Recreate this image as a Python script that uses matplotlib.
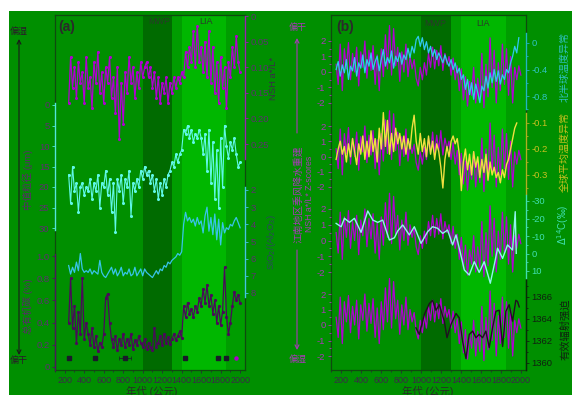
import matplotlib
matplotlib.use('Agg')
import matplotlib.pyplot as plt
from matplotlib.patches import Rectangle, FancyArrowPatch
import numpy as np

plt.rcParams['font.family'] = ['Liberation Sans', 'Noto Sans CJK SC', 'DejaVu Sans']
plt.rcParams['axes.unicode_minus'] = False

# ---------------- data ----------------
# panel (a): 20-yr samples starting 240 AD
nsh_start = 240
nsh = [0.17, 0.08, 0.14, 0.10, 0.16, 0.09, 0.13, 0.11, 0.17, 0.08,
       0.14, 0.12, 0.18, 0.09, 0.13, 0.07, 0.15, 0.11, 0.17, 0.10,
       0.13, 0.08, 0.16, 0.12, 0.19, 0.10, 0.24, 0.13, 0.21, 0.11,
       0.15, 0.08, 0.13, 0.10, 0.16, 0.11, 0.14, 0.09, 0.12, 0.10,
       0.09, 0.12, 0.10, 0.14, 0.11, 0.16, 0.12, 0.17, 0.13, 0.15,
       0.12, 0.17, 0.13, 0.15, 0.12, 0.14, 0.12, 0.13, 0.11, 0.12,
       0.07, 0.10, 0.06, 0.09, 0.03, 0.10, 0.02, 0.09, 0.06, 0.11,
       0.05, 0.12, 0.03, 0.13, 0.06, 0.15, 0.09, 0.17, 0.08, 0.14,
       0.10, 0.18, 0.09, 0.12, 0.06, 0.10, 0.04, 0.09, 0.11]
grain = [17, 24, 15, 21, 19, 26, 20, 19, 22, 20,
         21, 18, 23, 19, 21, 17, 25, 19, 20, 16,
         22, 18, 26, 19, 31, 18, 21, 17, 24, 18,
         20, 16, 27, 19, 21, 18, 20, 16, 18, 15,
         17, 16, 19, 17, 21, 18, 23, 19, 22, 18,
         20, 17, 16, 14, 15, 12, 14, 12, 11, 6,
         7, 5, 8, 6, 9, 7, 8, 6, 8, 12,
         7, 16, 6, 19, 9, 23, 11, 25, 8, 20,
         5, 10, 13, 9, 11, 8, 12, 15, 14]
sio2 = [6.4, 6.9, 6.5, 6.8, 6.2, 6.7, 5.7, 6.6, 6.8, 6.7,
        6.8, 6.6, 6.9, 6.7, 6.8, 6.9, 6.1, 6.8, 7.0, 7.1,
        6.9, 6.7, 6.5, 6.9, 6.6, 7.0, 6.8, 6.5, 7.0, 6.8,
        6.9, 6.6, 7.0, 6.9, 6.5, 7.0, 6.8, 6.6, 7.0, 6.6,
        6.8, 6.9, 7.0, 7.1, 6.9, 6.7, 6.9, 6.6, 6.7, 6.4,
        6.5, 6.2, 6.3, 6.1, 6.0, 5.9, 5.7, 5.8, 5.6, 4.0,
        3.3, 3.8, 3.6, 3.9, 3.7, 4.1, 3.6, 4.0, 3.8, 4.5,
        3.5, 3.0, 4.4, 3.6, 4.6, 3.4, 4.9, 3.7, 5.2, 3.9,
        4.5, 4.2, 4.3, 4.0, 4.1, 3.8, 3.6, 3.9, 4.2]
toc = [0.40, 0.80, 0.35, 0.55, 0.22, 0.50, 0.30, 0.80, 0.25, 0.40,
       0.30, 0.20, 0.35, 0.18, 0.28, 0.14, 0.22, 0.18, 0.30, 0.62,
       0.66, 0.40, 0.25, 0.18, 0.28, 0.15, 0.25, 0.20, 0.30, 0.18,
       0.25, 0.20, 0.30, 0.16, 0.24, 0.20, 0.28, 0.22, 0.18, 0.25,
       0.16, 0.22, 0.18, 0.15, 0.35, 0.18, 0.22, 0.28, 0.20, 0.30,
       0.22, 0.27, 0.21, 0.25, 0.30, 0.24, 0.28, 0.32, 0.26, 0.55,
       0.45, 0.58, 0.48, 0.52, 0.45, 0.55, 0.50, 0.62, 0.55, 0.70,
       0.58, 0.74, 0.55, 0.65, 0.48, 0.60, 0.40, 0.55, 0.38, 0.50,
       0.90, 0.45, 0.30, 0.40, 0.55, 0.68, 0.60, 0.65, 0.58]
date_years = [240, 510, 820, 1430, 1770, 1850]
date_err = [12, 12, 60, 12, 12, 12]
date_modern = [1955]

# panel (b): 20-yr samples starting 200 AD
z_start = 200
zscore = [0.5, -0.8, 1.8, -1.2, 1.5, 0.2, 1.9, -0.5, 1.2, 0.0,
          1.6, -0.9, 1.3, 0.3, 2.0, -0.4, 1.4, 0.1, 1.7, -0.8,
          1.1, -1.2, 1.5, -0.3, 2.4, 0.2, 3.0, -0.2, 2.8, 0.4,
          1.6, -0.6, 1.3, 0.0, 1.8, -0.3, 1.0, 0.2, 0.8, -0.4,
          -0.9, 0.3, -0.5, 0.6, -0.2, 1.2, 0.3, 1.6, 0.2, 1.4,
          0.4, 1.7, 0.1, 1.2, 0.5, 1.0, -0.2, 0.9, -0.5, 0.4,
          -1.2, 0.2, -1.8, -0.3, -2.2, -0.6, -1.5, 0.3, -2.0, -0.4,
          -1.7, 1.2, -2.3, 0.5, -1.6, 2.2, -1.0, 1.4, -2.0, 0.6,
          -1.2, 1.8, -0.8, 1.5, -1.5, 1.0, -2.0, 0.3, -0.5, 0.4, -0.2]
nh_temp = [-0.40, -0.28, -0.50, -0.33, -0.45, -0.25, -0.55, -0.35, -0.42, -0.22,
           -0.50, -0.30, -0.38, -0.18, -0.45, -0.25, -0.35, -0.15, -0.40, -0.28,
           -0.20, -0.42, -0.25, -0.10, -0.35, -0.22, -0.30, -0.12, -0.38, -0.20,
           -0.28, -0.15, -0.32, -0.18, -0.25, -0.08, -0.22, -0.05, -0.15, 0.05,
           0.10, -0.05, 0.08, -0.10, 0.02, -0.15, -0.05, -0.20, -0.10, -0.25,
           -0.15, -0.22, -0.30, -0.18, -0.28, -0.35, -0.25, -0.40, -0.30, -0.45,
           -0.38, -0.55, -0.48, -0.70, -0.55, -0.78, -0.60, -0.85, -0.62, -0.75,
           -0.90, -0.65, -0.72, -0.50, -0.68, -0.45, -0.60, -0.40, -0.58, -0.42,
           -0.62, -0.48, -0.55, -0.40, -0.45, -0.30, -0.20, -0.05, -0.15, 0.08]
glob_temp = [-0.24, -0.20, -0.17, -0.22, -0.19, -0.25, -0.18, -0.23, -0.16, -0.21,
             -0.26, -0.18, -0.22, -0.15, -0.24, -0.17, -0.23, -0.13, -0.21, -0.16,
             -0.25, -0.12, -0.20, -0.06, -0.19, -0.09, -0.22, -0.14, -0.21, -0.12,
             -0.18, -0.14, -0.20, -0.15, -0.22, -0.16, -0.20, -0.12, -0.07, -0.17,
             -0.22, -0.14, -0.21, -0.16, -0.23, -0.15, -0.22, -0.17, -0.24, -0.18,
             -0.21, -0.27, -0.35, -0.24, -0.19, -0.23, -0.17, -0.15, -0.18, -0.16,
             -0.22, -0.36, -0.25, -0.20, -0.28, -0.22, -0.30, -0.21, -0.27, -0.23,
             -0.31, -0.24, -0.29, -0.22, -0.32, -0.25, -0.30, -0.27, -0.31, -0.29,
             -0.33, -0.28, -0.31, -0.26, -0.24, -0.20, -0.16, -0.12, -0.10]
c14_years = [200, 249, 281, 330, 378, 443, 508, 557, 605, 654, 719, 768, 800, 849,
             913, 962, 1027, 1092, 1140, 1189, 1238, 1286, 1335, 1368, 1400, 1449,
             1497, 1546, 1594, 1643, 1702, 1747, 1773, 1822, 1870, 1919, 1945, 1955]
c14 = [-17.2, -15.3, -20.1, -17.8, -20.1, -12.1, -24.3, -19.1, -17.8, -19.1, -7.7,
       -9.0, -12.9, -16.3, -10.6, -15.3, -5.8, -12.5, -15.3, -14.4, -11.5, -13.4,
       -4.9, -10.6, -3.0, 9.4, 12.3, 4.7, 10.8, 4.7, 17.0, 4.7, -3.0, 2.8, -4.9,
       -2.0, -23.9, -0.1]
solar_years = [978, 1011, 1059, 1108, 1140, 1173, 1205, 1254, 1280, 1319, 1368, 1400,
               1432, 1465, 1497, 1530, 1562, 1594, 1627, 1659, 1692, 1724, 1757, 1789,
               1822, 1854, 1886, 1919, 1951, 1967, 1984]
solar = [1363.2, 1362.6, 1364.4, 1365.4, 1365.7, 1364.8, 1365.3, 1363.8, 1362.3,
         1363.5, 1364.5, 1364.1, 1362.0, 1360.4, 1362.6, 1362.9, 1362.3, 1362.6,
         1362.3, 1362.9, 1361.4, 1363.2, 1364.7, 1364.8, 1361.5, 1364.7, 1365.3,
         1363.8, 1365.7, 1365.6, 1365.1]
x_ticks = [200, 400, 600, 800, 1000, 1200, 1400, 1600, 1800, 2000]

# ---------------- figure ----------------
W, H = 572, 395
fig = plt.figure(figsize=(W / 100, H / 100), dpi=100)
fig.patch.set_facecolor('white')
BG = '#008f00'
MWP_C = '#006b00'
TR_C = '#009d00'
LIA_C = '#00b700'
fig.patches.append(Rectangle((9 / W, 0), 1 - 9 / W, 1 - 11 / H, transform=fig.transFigure,
                             facecolor=BG, edgecolor='none', zorder=-10))

TOP, BOT = 15, 370
TICK_FS = 6.8


def px_rect(x0, y0, x1, y1):
    return [x0 / W, 1 - y1 / H, (x1 - x0) / W, (y1 - y0) / H]


def frame(x0, x1, xlim):
    ax = fig.add_axes(px_rect(x0, TOP, x1, BOT))
    ax.set_facecolor(BG)
    ax.set_xlim(*xlim)
    ax.set_ylim(0, 1)
    ax.axvspan(1000, 1300, color=MWP_C, lw=0)
    ax.axvspan(1300, 1400, color=TR_C, lw=0)
    ax.axvspan(1400, 1850, color=LIA_C, lw=0)
    ax.axvspan(1850, 2100, color=TR_C, lw=0)
    for s in ax.spines.values():
        s.set_color('#0f4a0f')
        s.set_linewidth(0.9)
    ax.set_yticks([])
    ax.set_xticks(x_ticks)
    ax.set_xticks(range(100, 2051, 100), minor=True)
    ax.tick_params(axis='x', which='both', direction='out', length=2.5, width=0.6,
                   color='#2a2a3a', labelcolor='#3a2a48', labelsize=6.5, pad=1.5)
    ax.tick_params(axis='x', which='minor', length=1.5)
    return ax


def seg(x0, x1, xlim, v1, y1, v2, y2):
    ax = fig.add_axes(px_rect(x0, TOP, x1, BOT))
    b = (y2 - y1) / (v2 - v1)
    a = y1 - b * v1
    ax.set_ylim((BOT - a) / b, (TOP - a) / b)
    ax.set_xlim(*xlim)
    ax.patch.set_visible(False)
    for s in ax.spines.values():
        s.set_visible(False)
    ax.tick_params(axis='x', which='both', bottom=False, labelbottom=False)
    ax.tick_params(axis='y', which='both', left=False, labelleft=False,
                   right=False, labelright=False)
    return ax


def ystyle(ax, side, ticks, labels, lo, hi, spine_col, tick_col, label_col,
           minor=None, spine=True):
    sp = ax.spines[side]
    if spine:
        sp.set_visible(True)
        sp.set_bounds(lo, hi)
        sp.set_color(spine_col)
        sp.set_linewidth(1.0)
    ax.set_yticks(ticks)
    ax.set_yticklabels(labels)
    if minor is not None:
        ax.set_yticks(minor, minor=True)
    else:
        ax.set_yticks([], minor=True)
    kw = dict(direction='out', length=2.5, width=0.6, color=tick_col,
              labelcolor=label_col, labelsize=TICK_FS, pad=1.5)
    if side == 'right':
        ax.tick_params(axis='y', which='both', right=True, labelright=True,
                       left=False, labelleft=False, **kw)
    else:
        ax.tick_params(axis='y', which='both', left=True, labelleft=True,
                       right=False, labelright=False, **kw)
    ax.tick_params(axis='y', which='minor', length=1.5)


def years(start, vals):
    return np.arange(start, start + 20 * len(vals), 20)


def T(x, y, s, **kw):
    kw.setdefault('ha', 'center')
    kw.setdefault('va', 'center')
    return fig.text(x / W, 1 - y / H, s, **kw)


def arrow(x, y0, y1, col, style='->'):
    fig.add_artist(FancyArrowPatch((x / W, 1 - y0 / H), (x / W, 1 - y1 / H),
                                   transform=fig.transFigure, arrowstyle=style,
                                   mutation_scale=7, color=col, lw=0.8,
                                   shrinkA=0, shrinkB=0))


LAB_A = '#5e3070'

# ---------------- panel (a) ----------------
XA = (100, 2050)
fa = frame(55, 245, XA)

a1 = seg(55, 245, XA, 0, 16, 0.25, 144)
ystyle(a1, 'right', [0, 0.05, 0.10, 0.15, 0.20, 0.25],
       ['0', '0.05', '0.10', '0.15', '0.20', '0.25'], 0, 0.28,
       '#9a20b0', '#9a20b0', LAB_A)
a1.plot(years(nsh_start, nsh), nsh, color='#b000d0', lw=0.9, marker='o', ms=1.2)

a2 = seg(55, 245, XA, 0, 105, 30, 228)
ystyle(a2, 'left', [0, 5, 10, 15, 20, 25, 30],
       ['0', '5', '10', '15', '20', '25', '30'], -0.5, 30.5,
       '#50e8d8', '#50e8d8', LAB_A)
a2.plot(years(nsh_start, grain), grain, color='#60f8e8', lw=0.8, marker='o', ms=1.2)

a3 = seg(55, 245, XA, 2, 190, 8, 293)
ystyle(a3, 'right', [2, 3, 4, 5, 6, 7, 8], ['2', '3', '4', '5', '6', '7', '8'],
       1.85, 8.25, '#40c8e0', '#40c8e0', LAB_A)
a3.plot(years(nsh_start, sio2), sio2, color='#38c4e8', lw=0.9)

a4 = seg(55, 245, XA, 0, 367, 1.0, 256)
ystyle(a4, 'left', [0, 0.2, 0.4, 0.6, 0.8, 1.0],
       ['0', '0.2', '0.4', '0.6', '0.8', '1.0'], -0.03, 1.02,
       '#4a1a5a', '#4a1a5a', LAB_A)
a4.plot(years(nsh_start, toc), toc, color='#4a0a5a', lw=0.9, marker='o', ms=1.3)
a4.errorbar(date_years, [0.08] * len(date_years), xerr=date_err, fmt='s', ms=2.2,
            color='#1a1a2a', elinewidth=0.5, capsize=1.2, capthick=0.5)
a4.plot(date_modern, [0.08], 'o', ms=2.2, color='#b000d0')

T(67, 27, '(a)', fontsize=10, fontweight='bold', color='#2a2a2a')
T(159, 22, 'MWP', fontsize=6.5, color='#2a3a2a')
T(206, 22, 'LIA', fontsize=6.5, color='#2a3a2a')
T(18.5, 31, '偏湿', fontsize=6.5, color='#2a1a2a')
T(19, 361, '偏干', fontsize=6.5, color='#2a1a2a')
arrow(19, 355, 39, '#1a1a1a', '<->')
T(28, 180, '中值粒径 (μm)', fontsize=6.8, rotation=90, color='#5a2a6a')
T(28, 306, '总有机碳 (%)', fontsize=6.8, rotation=90, color='#5a2a6a')
T(273, 78, 'NSH a*/L*', fontsize=6.8, rotation=90, color='#3a2a4a')
T(272, 242, r'SiO$_2$/(Al$_2$O$_3$)', fontsize=6.8, rotation=90, color='#2a4a5a')
T(152, 391, '年代 (公元)', fontsize=7.5, color='#2a2a2a')

# ---------------- panel (b) ----------------
XB = (150, 2050)
fb = frame(331, 526, XB)
ZC = '#a838b8'
z_positions = [(41, 103), (126, 187), (209, 272), (294, 356)]
zax = []
for (yt, yb) in z_positions:
    az = seg(331, 526, XB, 2, yt, -2, yb)
    ystyle(az, 'left', [-2, -1, 0, 1, 2], ['-2', '-1', '0', '1', '2'], -2, 2,
           ZC, ZC, ZC, minor=[-1.5, -0.5, 0.5, 1.5], spine=False)
    az.plot(years(z_start, zscore), zscore, color='#b000d0', lw=0.9)
    zax.append(az)

b1 = seg(331, 526, XB, 0, 43, -0.8, 96)
ystyle(b1, 'right', [0, -0.4, -0.8], ['0', '-0.4', '-0.8'], -1.0, 0.15,
       '#20b8c0', '#20b8c0', '#30c4c4', minor=[-1.0, -0.6, -0.2])
b1.plot(years(z_start, nh_temp), nh_temp, color='#30c8f0', lw=0.9)

b2 = seg(331, 526, XB, -0.1, 123, -0.3, 175)
ystyle(b2, 'right', [-0.1, -0.2, -0.3], ['-0.1', '-0.2', '-0.3'], -0.375, -0.062,
       '#b0b020', '#b0b020', '#c8c020', minor=[-0.35, -0.25, -0.15])
b2.plot(years(z_start, glob_temp), glob_temp, color='#f0e040', lw=1.0)

b3 = seg(331, 526, XB, -30, 201, 10, 271)
ystyle(b3, 'right', [-30, -20, -10, 0, 10], ['-30', '-20', '-10', '0', '10'],
       -33.4, 14, '#40e0b0', '#40e0b0', '#40e0b0', minor=[-25, -15, -5, 5])
b3.plot(c14_years, c14, color='#90f4ec', lw=1.0)

b4 = seg(331, 526, XB, 1366, 297, 1360, 363)
ystyle(b4, 'right', [1360, 1362, 1364, 1366], ['1360', '1362', '1364', '1366'],
       1359.4, 1367.5, '#0a2a0a', '#0a2a0a', '#102010', minor=[1361, 1363, 1365, 1367])
b4.plot(solar_years, solar, color='#201020', lw=1.0)

T(345, 27, '(b)', fontsize=10, fontweight='bold', color='#2a2a2a')
T(435, 23, 'MWP', fontsize=6.5, color='#2a3a2a')
T(483, 23, 'LIA', fontsize=6.5, color='#2a3a2a')
T(297.5, 27.5, '偏干', fontsize=6.5, color=ZC)
T(297.5, 359, '偏湿', fontsize=6.5, color=ZC)
arrow(297, 133, 38, ZC)
arrow(297, 250, 350, ZC)
T(298, 194, '江南地区季风降水重建', fontsize=7, rotation=90, color=ZC)
T(309, 194, 'NSH a*/L* Z-scores', fontsize=6.3, rotation=90, color=ZC)
T(565, 67, '北半球温度异常', fontsize=7.2, rotation=90, color='#30c0c0')
T(565, 152, '全球平均温度异常', fontsize=7.2, rotation=90, color='#c8c020')
T(563, 225, r'$\Delta^{14}$C(‰)', fontsize=7.0, rotation=90, color='#40e0b0')
T(565, 329, '有效辐射强迫', fontsize=7.4, rotation=90, color='#102010')
T(428, 391, '年代 (公元)', fontsize=7.5, color='#2a2a2a')

fig.savefig('out.png', dpi=100, facecolor=fig.get_facecolor())
